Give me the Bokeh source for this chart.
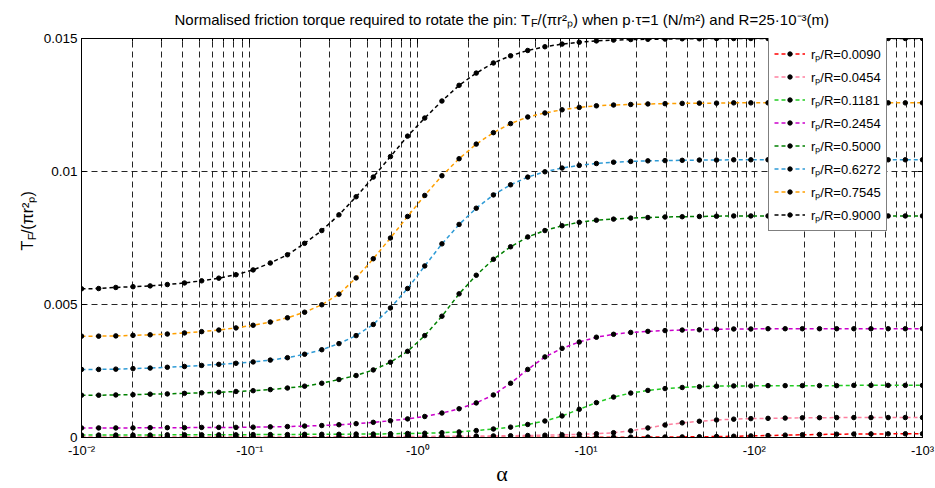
import numpy as np
from bokeh.plotting import figure
from bokeh.layouts import column, row
from bokeh.models import (FixedTicker, CustomJSTickFormatter, LinearAxis, LogAxis, Label)
from bokeh.embed import file_html
from bokeh.resources import INLINE

# |alpha| sample grid (50 log-spaced points from 10^-2 to 10^3)
alpha_abs = np.logspace(-2, 3, 50)

ratio_labels = ["0.0090", "0.0454", "0.1181", "0.2454", "0.5000", "0.6272", "0.7545", "0.9000"]
colors = ["#FF0000", "#FF80A0", "#22CC22", "#CC00CC", "#008000", "#2E9BD6", "#FFA000", "#000000"]

t_0090 = [0.000003]*10 + [0.000004]*10 + [
    0.000005, 0.000005, 0.000005, 0.000006, 0.000006, 0.000006, 0.000007, 0.000007, 0.000008, 0.000009,
    0.000010, 0.000011, 0.000013, 0.000015, 0.000018, 0.000022, 0.000028, 0.000036, 0.000047, 0.000060,
    0.000074, 0.000089, 0.000103, 0.000115, 0.000124, 0.000130, 0.000134, 0.000137, 0.000139, 0.000140]
t_0454 = [
    0.000018, 0.000018, 0.000018, 0.000018, 0.000018, 0.000020, 0.000020, 0.000020, 0.000020, 0.000020,
    0.000021, 0.000022, 0.000023, 0.000024, 0.000025, 0.000027, 0.000029, 0.000031, 0.000033, 0.000036,
    0.000040, 0.000044, 0.000048, 0.000053, 0.000059, 0.000066, 0.000075, 0.000086, 0.000100, 0.000120,
    0.000140, 0.000180, 0.000250, 0.000360, 0.000470, 0.000550, 0.000610, 0.000660, 0.000690, 0.000710,
    0.000720, 0.000730, 0.000740, 0.000745, 0.000748, 0.000750, 0.000750, 0.000750, 0.000750, 0.000750]
t_1181 = [
    0.00009, 0.00009, 0.00009, 0.00009, 0.00009, 0.00010, 0.00010, 0.00010, 0.00010, 0.00010,
    0.00011, 0.00011, 0.00011, 0.00012, 0.00012, 0.00012, 0.00013, 0.00013, 0.00014, 0.00015,
    0.00016, 0.00018, 0.00021, 0.00026, 0.00032, 0.00039, 0.00049, 0.00062, 0.00081, 0.00106,
    0.00131, 0.00152, 0.00167, 0.00177, 0.00184, 0.00188, 0.00191, 0.00193, 0.00194, 0.00194,
    0.00195, 0.00195, 0.00195, 0.00195, 0.00195, 0.00196, 0.00196, 0.00196, 0.00196, 0.00196]
t_2454 = [
    0.00036, 0.00036, 0.00036, 0.00036, 0.00037, 0.00037, 0.00037, 0.00038, 0.00038, 0.00038,
    0.00039, 0.00040, 0.00041, 0.00043, 0.00045, 0.00048, 0.00052, 0.00057, 0.00063, 0.00070,
    0.00079, 0.00092, 0.00108, 0.00130, 0.00160, 0.00204, 0.00256, 0.00303, 0.00335, 0.00359,
    0.00377, 0.00388, 0.00395, 0.00399, 0.00402, 0.00404, 0.00405, 0.00407, 0.00408, 0.00408,
    0.00409, 0.00409, 0.00409, 0.00409, 0.00409, 0.00409, 0.00409, 0.00409, 0.00409, 0.00409]
t_5000 = [
    0.00159, 0.00159, 0.00160, 0.00161, 0.00163, 0.00164, 0.00166, 0.00168, 0.00170, 0.00173,
    0.00176, 0.00180, 0.00186, 0.00193, 0.00204, 0.00218, 0.00233, 0.00254, 0.00283, 0.00324,
    0.00383, 0.00456, 0.00540, 0.00610, 0.00670, 0.00717, 0.00754, 0.00778, 0.00796, 0.00809,
    0.00817, 0.00821, 0.00825, 0.00827, 0.00829, 0.00830, 0.00831, 0.00832, 0.00833, 0.00833,
    0.00833, 0.00833, 0.00833, 0.00833, 0.00833, 0.00833, 0.00833, 0.00833, 0.00833, 0.00833]
t_6272 = [
    0.00256, 0.00256, 0.00257, 0.00259, 0.00261, 0.00264, 0.00267, 0.00271, 0.00275, 0.00279,
    0.00284, 0.00291, 0.00300, 0.00313, 0.00330, 0.00353, 0.00383, 0.00425, 0.00487, 0.00560,
    0.00645, 0.00728, 0.00801, 0.00862, 0.00912, 0.00950, 0.00979, 0.00999, 0.01013, 0.01023,
    0.01030, 0.01035, 0.01038, 0.01040, 0.01041, 0.01042, 0.01043, 0.01043, 0.01044, 0.01044,
    0.01044, 0.01044, 0.01044, 0.01044, 0.01044, 0.01044, 0.01044, 0.01044, 0.01044, 0.01044]
t_7545 = [
    0.00381, 0.00381, 0.00382, 0.00384, 0.00386, 0.00389, 0.00393, 0.00398, 0.00404, 0.00412,
    0.00422, 0.00434, 0.00450, 0.00471, 0.00499, 0.00539, 0.00600, 0.00672, 0.00750, 0.00831,
    0.00910, 0.00984, 0.01048, 0.01103, 0.01146, 0.01180, 0.01205, 0.01220, 0.01232, 0.01241,
    0.01247, 0.01250, 0.01252, 0.01254, 0.01255, 0.01256, 0.01257, 0.01257, 0.01258, 0.01258,
    0.01258, 0.01258, 0.01258, 0.01258, 0.01258, 0.01258, 0.01258, 0.01258, 0.01258, 0.01258]
t_9000 = [
    0.00559, 0.00560, 0.00564, 0.00567, 0.00570, 0.00575, 0.00581, 0.00589, 0.00599, 0.00612,
    0.00630, 0.00656, 0.00687, 0.00730, 0.00778, 0.00837, 0.00905, 0.00979, 0.01056, 0.01133,
    0.01201, 0.01265, 0.01324, 0.01370, 0.01408, 0.01435, 0.01455, 0.01469, 0.01479, 0.01486,
    0.01491, 0.01494, 0.01496, 0.01497, 0.01498, 0.01499, 0.01499, 0.01500, 0.01500, 0.01500,
    0.01500, 0.01500, 0.01500, 0.01500, 0.01500, 0.01500, 0.01500, 0.01500, 0.01500, 0.01500]

series = [t_0090, t_0454, t_1181, t_2454, t_5000, t_6272, t_7545, t_9000]

x_major = [1e-2, 1e-1, 1e0, 1e1, 1e2, 1e3]
x_minor = [m * 10.0 ** e for e in range(-2, 3) for m in range(2, 10)]
y_ticks = [0, 0.005, 0.01, 0.015]

FONT = "Liberation Sans"
TITLE_H = 30
YLAB_W = 40
MAIN_H = 488 - TITLE_H

# ---------------- main chart ----------------
p = figure(width=935 - YLAB_W, height=MAIN_H, x_axis_type="log", x_range=(1e-2, 1e3), y_range=(0, 0.015),
           output_backend="svg", toolbar_location=None,
           min_border_left=80 - YLAB_W, min_border_right=13, min_border_top=38 - TITLE_H, min_border_bottom=50)
p.background_fill_color = "white"
p.border_fill_color = "white"
p.outline_line_color = "black"
p.outline_line_width = 1

xt = FixedTicker(ticks=x_major, minor_ticks=x_minor)
yt = FixedTicker(ticks=y_ticks)
xfmt = CustomJSTickFormatter(code="""
const e = Math.round(Math.log10(tick));
const sup = {"-3":"\u207b\u00b3","-2":"\u207b\u00b2","-1":"\u207b\u00b9","0":"\u2070","1":"\u00b9","2":"\u00b2","3":"\u00b3"};
return "-10" + sup[String(e)];
""")
yfmt = CustomJSTickFormatter(code="return tick === 0 ? '0' : String(parseFloat(tick.toFixed(3)));")

for ax in p.xaxis:
    ax.ticker = xt
    ax.formatter = xfmt
    ax.major_tick_in = 5
    ax.major_tick_out = 0
    ax.minor_tick_in = 3
    ax.minor_tick_out = 0
    ax.major_label_text_font = FONT
    ax.major_label_text_font_size = "13px"
    ax.major_label_text_color = "black"
    ax.major_label_standoff = 5
    ax.axis_label = "\u03b1"
    ax.axis_label_text_font = "Liberation Serif"
    ax.axis_label_text_font_size = "22px"
    ax.axis_label_text_font_style = "normal"
    ax.axis_label_text_color = "black"
    ax.axis_label_standoff = 0
for ax in p.yaxis:
    ax.ticker = yt
    ax.formatter = yfmt
    ax.major_tick_in = 5
    ax.major_tick_out = 0
    ax.minor_tick_in = 0
    ax.minor_tick_out = 0
    ax.major_label_text_font = FONT
    ax.major_label_text_font_size = "13.5px"
    ax.major_label_text_color = "black"
    ax.major_label_standoff = 4

top_ax = LogAxis(ticker=xt, major_tick_in=5, major_tick_out=0, minor_tick_in=3, minor_tick_out=0,
                 major_label_text_color=None, major_label_text_font_size="1px", major_label_standoff=0)
right_ax = LinearAxis(ticker=yt, major_tick_in=5, major_tick_out=0, minor_tick_in=0, minor_tick_out=0,
                      major_label_text_color=None, major_label_text_font_size="1px", major_label_standoff=0)
p.add_layout(top_ax, "above")
p.add_layout(right_ax, "right")

for g in (p.xgrid, p.ygrid):
    g.grid_line_color = "black"
    g.grid_line_alpha = 0.85
    g.grid_line_dash = "6 4"
    g.grid_line_width = 1
p.xgrid.minor_grid_line_color = "black"
p.xgrid.minor_grid_line_alpha = 0.85
p.xgrid.minor_grid_line_dash = "6 4"

for lab, col, vals in zip(ratio_labels, colors, series):
    name = "r\u209a/R=" + lab
    p.line(alpha_abs, vals, line_color=col, line_width=1.5, line_dash="4 3", legend_label=name)
    p.scatter(alpha_abs, vals, size=4.5, fill_color="black", line_color="black", legend_label=name)

lg = p.legend[0]
lg.location = (687, 206)
lg.border_line_color = "black"
lg.border_line_width = 1
lg.background_fill_color = "white"
lg.background_fill_alpha = 1
lg.label_text_font = FONT
lg.label_text_font_size = "13px"
lg.label_text_color = "black"
lg.padding = 5
lg.margin = 0
lg.spacing = 2
lg.glyph_height = 11
lg.label_height = 21
lg.glyph_width = 31
lg.label_standoff = 6


def bare(w, h):
    f = figure(width=w, height=h, x_range=(0, w), y_range=(0, h), output_backend="svg",
               toolbar_location=None, x_axis_location=None, y_axis_location=None, min_border=0)
    f.grid.visible = False
    f.outline_line_color = None
    f.background_fill_color = "white"
    f.border_fill_color = "white"
    return f


def txt(f, x, y, text, size, angle=0.0, align="left"):
    f.add_layout(Label(x=x, y=y, text=text, text_font=FONT, text_font_size=f"{size}px", angle=angle,
                       text_align=align, text_baseline="alphabetic", text_color="black"))


# ---------------- title strip (T with subscript F) ----------------
tf = bare(935, TITLE_H)
tx0, ty0 = 530, 11
txt(tf, tx0, ty0, "Normalised friction torque required to rotate the pin: T", 15, align="right")
txt(tf, tx0 + 0.5, ty0 - 3.5, "F", 11)
txt(tf, tx0 + 7, ty0, "/(\u03c0r\u00b2\u209a) when p\u00b7\u03c4=1 (N/m\u00b2) and R=25\u00b710\u207b\u00b3(m)", 15)

# ---------------- y-axis label strip (rotated) ----------------
yf = bare(YLAB_W, MAIN_H)
yx0, yy0 = 27, 226
txt(yf, yx0, yy0, "T", 16, angle=np.pi / 2, align="right")
txt(yf, yx0 + 4, yy0 + 0.5, "F", 11.5, angle=np.pi / 2)
txt(yf, yx0, yy0 + 7.5, "/(\u03c0r\u00b2\u209a)", 16, angle=np.pi / 2)

layout = column(tf, row(yf, p))
open("out.html", "w").write(file_html(layout, INLINE))
